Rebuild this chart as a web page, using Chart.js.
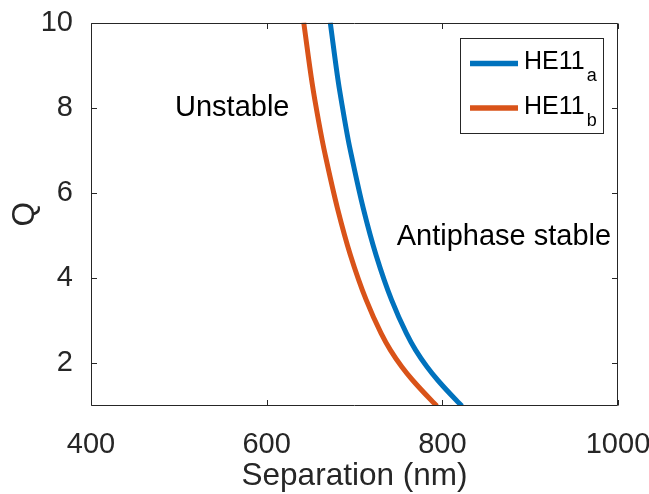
<!DOCTYPE html>
<html><head><meta charset="utf-8">
<script src="https://cdn.jsdelivr.net/npm/chart.js@4/dist/chart.umd.min.js"></script>
<style>html,body{margin:0;padding:0;background:#fff}#wrap{position:relative;width:649px;height:494px}</style>
</head><body><div id="wrap"><canvas id="c" width="649" height="494"></canvas></div>
<script>
// ---- data ----
const qValues     = [10, 8.57, 8.18, 7.24, 6.89, 5.64, 4.54, 3.49, 2.71, 2.31, 1.92, 1.61, 1.14, 1.0];
const separationA = [672.4, 681.8, 684.9, 692.9, 696.4, 710.0, 724.6, 742.2, 759.0, 769.6, 782.5, 794.6, 815.6, 822.4]; // HE11_a
const separationB = [642.2, 651.8, 654.9, 663.2, 666.7, 680.6, 695.4, 713.3, 730.2, 740.9, 753.8, 766.0, 787.1, 793.9]; // HE11_b
const seriesNames = ['HE11', 'HE11'];
const seriesSubs  = ['a', 'b'];
const seriesColors = ['#0072BD', '#D95319'];
const xTicks = [400, 600, 800, 1000];
const yTicks = [2, 4, 6, 8, 10];
const regionLabels = ['Unstable', 'Antiphase stable'];
const regionAnchorsX = [560.8, 748.1];
const regionAnchorsY = [7.81, 4.78];
const regionAlign = ['center', 'left'];

const FONT = "'Liberation Sans', Arial, Helvetica, sans-serif";
const AXIS = '#262626';

const overlay = {
  id: 'overlay',
  afterDatasetsDraw(chart) {
    const {ctx, chartArea: a, scales: {x, y}} = chart;
    ctx.save();
    // box
    ctx.strokeStyle = AXIS; ctx.lineWidth = 1;
    const L = Math.round(a.left) + 0.5, R = Math.round(a.right) - 0.5;
    const T = Math.round(a.top) + 0.5, B = Math.round(a.bottom) - 0.5;
    ctx.beginPath();
    ctx.moveTo(L, T); ctx.lineTo(R, T); ctx.lineTo(R, B); ctx.lineTo(L, B); ctx.closePath();
    // inward ticks
    const tl = 5.5;
    xTicks.forEach(v => {
      const px = Math.round(x.getPixelForValue(v)) + 0.5;
      ctx.moveTo(px, B); ctx.lineTo(px, B - tl);
      ctx.moveTo(px, T); ctx.lineTo(px, T + tl);
    });
    yTicks.forEach(v => {
      const py = Math.round(y.getPixelForValue(v)) + 0.5;
      ctx.moveTo(L, py); ctx.lineTo(L + tl, py);
      ctx.moveTo(R, py); ctx.lineTo(R - tl, py);
    });
    ctx.stroke();

    // region annotations
    ctx.fillStyle = '#000';
    ctx.font = '29px ' + FONT;
    ctx.textBaseline = 'alphabetic';
    regionLabels.forEach((t, i) => {
      ctx.textAlign = regionAlign[i];
      ctx.fillText(t, x.getPixelForValue(regionAnchorsX[i]), y.getPixelForValue(regionAnchorsY[i]));
    });

    // legend (with subscripts)
    const mainFont = '25px ' + FONT, subFont = '18px ' + FONT;
    ctx.font = mainFont; const wMain = Math.max(...seriesNames.map(s => ctx.measureText(s).width));
    ctx.font = subFont; const wSub = Math.max(...seriesSubs.map(s => ctx.measureText(s).width));
    const padL = 10, lineLen = 48, gap = 6, subGap = 2, padR = 6;
    const boxW = padL + lineLen + gap + wMain + subGap + wSub + padR;
    const rowH = 44.4, padTB = 25.3;
    const boxH = padTB * 2 + rowH * (seriesNames.length - 1);
    const bx = a.right - 15.3 - boxW, by = a.top + 15.8;
    ctx.fillStyle = '#fff';
    ctx.fillRect(bx, by, boxW, boxH);
    ctx.strokeStyle = AXIS; ctx.lineWidth = 1;
    ctx.strokeRect(Math.round(bx) + 0.5, Math.round(by) + 0.5, Math.round(boxW), Math.round(boxH));
    seriesNames.forEach((name, i) => {
      const ly = by + padTB + i * rowH;
      ctx.strokeStyle = seriesColors[i]; ctx.lineWidth = 5.5; ctx.lineCap = 'butt';
      ctx.beginPath(); ctx.moveTo(bx + padL, ly); ctx.lineTo(bx + padL + lineLen, ly); ctx.stroke();
      ctx.fillStyle = '#000'; ctx.textAlign = 'left'; ctx.textBaseline = 'alphabetic';
      ctx.font = mainFont;
      const tx = bx + padL + lineLen + gap;
      ctx.fillText(name, tx, ly + 5.7);
      const w = ctx.measureText(name).width;
      ctx.font = subFont;
      ctx.fillText(seriesSubs[i], tx + w + subGap, ly + 17.7);
    });
    ctx.restore();
  }
};

const mkData = arr => qValues.map((q, i) => ({x: arr[i], y: q}));

new Chart(document.getElementById('c'), {
  type: 'line',
  data: {
    datasets: [
      {label: 'HE11a', data: mkData(separationA), borderColor: seriesColors[0],
       backgroundColor: seriesColors[0], borderWidth: 5, pointRadius: 0, cubicInterpolationMode: 'monotone', fill: false},
      {label: 'HE11b', data: mkData(separationB), borderColor: seriesColors[1],
       backgroundColor: seriesColors[1], borderWidth: 5, pointRadius: 0, cubicInterpolationMode: 'monotone', fill: false}
    ]
  },
  options: {
    indexAxis: 'y',
    responsive: false, animation: false, devicePixelRatio: 1,
    layout: {padding: {top: 22.5, right: 31, bottom: 0, left: 0}},
    plugins: {legend: {display: false}, tooltip: {enabled: false}},
    scales: {
      x: {
        type: 'linear', min: 400, max: 1000,
        afterBuildTicks: s => { s.ticks = xTicks.map(v => ({value: v})); },
        grid: {display: false}, border: {display: false},
        ticks: {font: {family: FONT, size: 29}, color: AXIS, padding: 14, maxRotation: 0, autoSkip: false, callback: v => String(v)},
        title: {display: true, text: 'Separation (nm)', font: {family: FONT, size: 31.5, lineHeight: 1.1}, color: AXIS, padding: {top: 0, bottom: 0}},
        afterFit: s => { s.height = 88; s.paddingLeft = 0; s.paddingRight = 0; }
      },
      y: {
        type: 'linear', min: 1, max: 10,
        afterBuildTicks: s => { s.ticks = yTicks.map(v => ({value: v})); },
        grid: {display: false}, border: {display: false},
        ticks: {font: {family: FONT, size: 29}, color: AXIS, padding: 10, autoSkip: false, callback: v => String(v)},
        title: {display: true, text: 'Q', font: {family: FONT, size: 31.5, lineHeight: 1.2}, color: AXIS, padding: {top: 6.7, bottom: 0}},
        afterFit: s => { s.width = 91; s.paddingTop = 0; s.paddingBottom = 0; }
      }
    }
  },
  plugins: [overlay]
});
</script>
</body></html>
